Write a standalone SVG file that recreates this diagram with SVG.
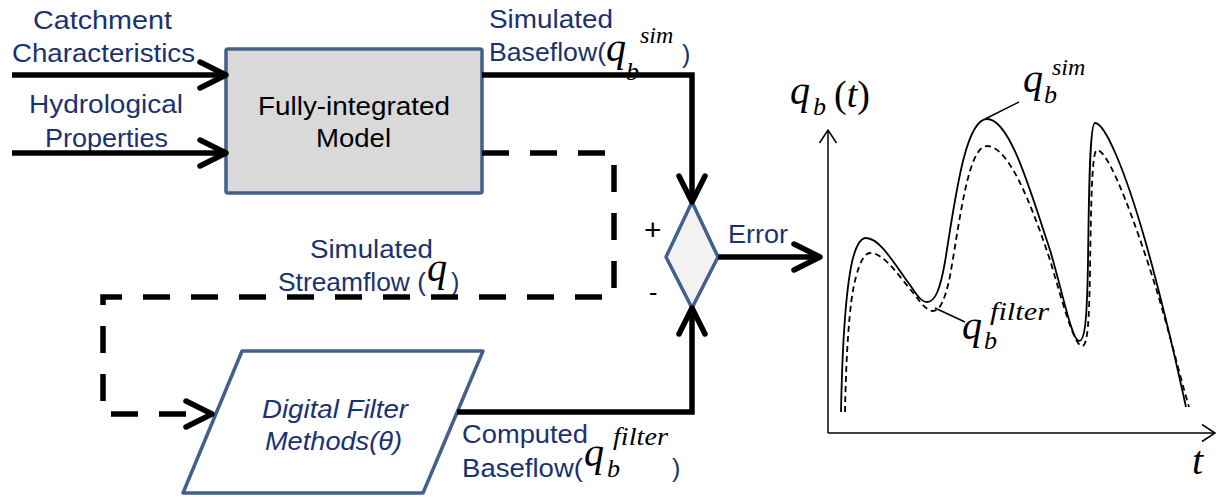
<svg xmlns="http://www.w3.org/2000/svg" width="1221" height="497" viewBox="0 0 1221 497">
  <style>
    .lbl { font-family: "Liberation Sans", Arial, sans-serif; font-size: 25px; fill: #1a3270; }
    .blk { fill: #000; }
    .ital { font-style: italic; }
    .math { font-family: "Liberation Serif", "Times New Roman", serif; font-style: italic; fill: #000; }
    .up { font-style: normal; }
    .node { stroke: #41618c; stroke-width: 3.5; stroke-linejoin: round; }
    .flow { fill: none; stroke: #000; stroke-width: 5.5; stroke-linejoin: miter; }
    .dash { stroke-dasharray: 27 21; }
    .axis { fill: none; stroke: #000; stroke-width: 1.5; }
    .curve { fill: none; stroke: #000; stroke-width: 1.8; }
  </style>
  <defs>
    <marker id="chev" markerUnits="userSpaceOnUse" markerWidth="44" markerHeight="44" viewBox="-36 -22 44 44" refX="0" refY="0" orient="auto">
      <path d="M -26 -13 L 0 0 L -26 13" fill="none" stroke="#000" stroke-width="5.5" stroke-linecap="round" stroke-linejoin="round"/>
    </marker>
    <marker id="axhead" markerUnits="userSpaceOnUse" markerWidth="24" markerHeight="24" viewBox="-18 -12 24 24" refX="0" refY="0" orient="auto">
      <path d="M -13 -8.5 L 0 0 L -13 8.5" fill="none" stroke="#000" stroke-width="1.5"/>
    </marker>
  </defs>

  <rect width="1221" height="497" fill="#fff"/>

  <!-- input labels -->
  <g id="inputs">
    <text class="lbl" x="33" y="29" textLength="139" lengthAdjust="spacingAndGlyphs">Catchment</text>
    <text class="lbl" x="12" y="62" textLength="183" lengthAdjust="spacingAndGlyphs">Characteristics</text>
    <text class="lbl" x="29" y="113" textLength="154" lengthAdjust="spacingAndGlyphs">Hydrological</text>
    <text class="lbl" x="45" y="147" textLength="123" lengthAdjust="spacingAndGlyphs">Properties</text>
  </g>

  <!-- model block -->
  <g id="model">
    <rect class="node" x="226" y="49" width="256" height="144" rx="2" fill="#d9d9d9"/>
    <text class="lbl blk" x="258" y="115" textLength="192" lengthAdjust="spacingAndGlyphs">Fully-integrated</text>
    <text class="lbl blk" x="316" y="147" textLength="75" lengthAdjust="spacingAndGlyphs">Model</text>
  </g>

  <!-- digital filter block -->
  <g id="filter">
    <polygon class="node" points="242,351 483,351 423,493 183,493" fill="#fff"/>
    <text class="lbl ital" x="262" y="418" textLength="146" lengthAdjust="spacingAndGlyphs">Digital Filter</text>
    <text class="lbl ital" x="265" y="450" textLength="137" lengthAdjust="spacingAndGlyphs">Methods(θ)</text>
  </g>

  <!-- comparison junction -->
  <g id="junction">
    <polygon class="node" points="692,202 718,257 692,308 666,257" fill="#f2f2f2"/>
    <text class="lbl blk" x="644" y="240" style="font-size:30px">+</text>
    <text class="lbl blk" x="649" y="301">-</text>
  </g>

  <!-- flow labels -->
  <g id="labels">
    <text class="lbl" x="489" y="28" textLength="124" lengthAdjust="spacingAndGlyphs">Simulated</text>
    <text class="lbl" x="489" y="61" textLength="117" lengthAdjust="spacingAndGlyphs">Baseflow(</text>
    <text class="math" x="606" y="61" font-size="40">q</text>
    <text class="math" x="626" y="80" font-size="26">b</text>
    <text class="math" x="640" y="43" font-size="24">sim</text>
    <text class="lbl" x="682" y="63">)</text>

    <text class="lbl" x="310" y="258" textLength="123" lengthAdjust="spacingAndGlyphs">Simulated</text>
    <text class="lbl" x="278" y="291" textLength="148" lengthAdjust="spacingAndGlyphs">Streamflow (</text>
    <text class="math" x="427" y="281" font-size="40">q</text>
    <text class="lbl" x="451" y="291">)</text>

    <text class="lbl" x="728" y="243" textLength="60" lengthAdjust="spacingAndGlyphs">Error</text>

    <text class="lbl" x="462" y="443" textLength="126" lengthAdjust="spacingAndGlyphs">Computed</text>
    <text class="lbl" x="462" y="477" textLength="121" lengthAdjust="spacingAndGlyphs">Baseflow(</text>
    <text class="math" x="584" y="466" font-size="40">q</text>
    <text class="math" x="607" y="477" font-size="26">b</text>
    <text class="math" x="613" y="445" font-size="26" textLength="55" lengthAdjust="spacingAndGlyphs">filter</text>
    <text class="lbl" x="672" y="477">)</text>
  </g>

  <!-- connectors -->
  <g id="connectors">
    <path class="flow" d="M 12 75 H 226" marker-end="url(#chev)"/>
    <path class="flow" d="M 12 153 H 226" marker-end="url(#chev)"/>
    <path class="flow" d="M 482 75 H 692 V 202" marker-end="url(#chev)"/>
    <path class="flow" d="M 457 412 H 692 V 308" marker-end="url(#chev)"/>
    <path class="flow" d="M 718 257 H 820" marker-end="url(#chev)"/>
    <path class="flow dash" d="M 482 153 H 614 V 297 H 103 V 414 H 212" marker-end="url(#chev)"/>
  </g>

  <!-- baseflow hydrograph -->
  <g id="chart">
    <path class="axis" d="M 828 433 V 130" marker-end="url(#axhead)"/>
    <path class="axis" d="M 828 433 H 1215" marker-end="url(#axhead)"/>
    <path class="curve" d="M 841 412 C 842 360, 845 295, 852 262 C 856 245, 861 238, 866 238 C 880 238, 895 265, 910 285 C 918 297, 922 302, 927 302 C 935 302, 940 290, 945 262 C 955 200, 965 119, 987 119 C 1010 119, 1030 190, 1050 250 C 1062 290, 1072 341, 1079 341 C 1085 341, 1087 320, 1088 262 C 1089 180, 1090 123, 1095 123 C 1105 123, 1125 170, 1145 240 S 1176 362, 1186 407"/>
    <path class="curve" stroke-dasharray="6 4" d="M 845 412 C 846 360, 849 300, 856 277 C 860 261, 865 253, 870 253 C 885 253, 900 278, 915 295 C 922 305, 928 311, 933 311 C 940 311, 945 300, 950 276 C 960 220, 968 146, 987 146 C 1008 146, 1030 200, 1050 260 C 1062 300, 1074 346, 1082 346 C 1088 346, 1089 320, 1090 272 C 1091 200, 1092 150, 1097 150 C 1107 150, 1127 200, 1147 260 S 1178 370, 1189 407"/>
    <path class="axis" d="M 985 119 L 1019 102"/>
    <path class="axis" d="M 935 308 L 965 322"/>

    <text class="math" x="790" y="104" font-size="40">q</text>
    <text class="math" x="813" y="115" font-size="26">b</text>
    <text class="math" x="834" y="107" font-size="38"><tspan class="up">(</tspan>t<tspan class="up">)</tspan></text>

    <text class="math" x="1023" y="92" font-size="40">q</text>
    <text class="math" x="1044" y="103" font-size="26">b</text>
    <text class="math" x="1052" y="75" font-size="24">sim</text>

    <text class="math" x="962" y="339" font-size="40">q</text>
    <text class="math" x="984" y="349" font-size="26">b</text>
    <text class="math" x="990" y="320" font-size="26" textLength="59" lengthAdjust="spacingAndGlyphs">filter</text>

    <text class="math" x="1192" y="474" font-size="40">t</text>
  </g>
</svg>
